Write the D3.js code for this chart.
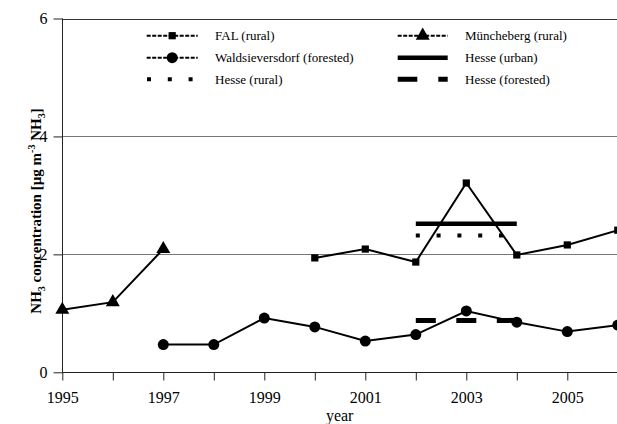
<!DOCTYPE html>
<html>
<head>
<meta charset="utf-8">
<script src="https://cdn.jsdelivr.net/npm/d3@7"></script>
<style>
  html, body { margin: 0; padding: 0; background: #fff; }
  svg { display: block; font-family: "Liberation Serif", "Times New Roman", serif; }
</style>
</head>
<body>
<svg id="chart" width="617" height="424"></svg>
<script>
// Annual mean NH3 concentrations per site
const falYears = [2000, 2001, 2002, 2003, 2004, 2005, 2006];
const falValues = [1.94, 2.09, 1.87, 3.21, 1.99, 2.16, 2.41];

const muenchebergYears = [1995, 1996, 1997];
const muenchebergValues = [1.06, 1.19, 2.09];

const waldYears = [1997, 1998, 1999, 2000, 2001, 2002, 2003, 2004, 2005, 2006];
const waldValues = [0.47, 0.47, 0.92, 0.77, 0.53, 0.64, 1.04, 0.85, 0.69, 0.80];

// Hesse network: mean over the 2002-2004 period
const hessePeriod = [2002, 2004];
const hesseUrban = 2.52;
const hesseRural = 2.32;
const hesseForested = 0.88;

const yTicks = [0, 2, 4, 6];
const xTicks = d3.range(1995, 2007);
const xLabelYears = [1995, 1997, 1999, 2001, 2003, 2005];

const legendLabels = [
  "FAL (rural)", "Müncheberg (rural)",
  "Waldsieversdorf (forested)", "Hesse (urban)",
  "Hesse (rural)", "Hesse (forested)"
];

const svg = d3.select("#chart");
const x = d3.scaleLinear().domain([1995, 2006]).range([62.3, 617.8]);
const y = d3.scaleLinear().domain([0, 6]).range([372.3, 18.5]);

// horizontal gridlines
svg.append("g").selectAll("line")
  .data(yTicks.filter(d => d > 0))
  .join("line")
  .attr("x1", x(1995)).attr("x2", 617)
  .attr("y1", d => Math.round(y(d)) + 0.5).attr("y2", d => Math.round(y(d)) + 0.5)
  .attr("stroke", d => d === 6 ? "#333" : "#777")
  .attr("stroke-width", 1);

// axes
const xAxis = d3.axisBottom(x)
  .tickValues(xTicks)
  .tickSize(8)
  .tickPadding(11)
  .tickFormat(d => xLabelYears.includes(d) ? String(d) : "");
const gx = svg.append("g").attr("transform", `translate(0,${Math.round(y(0)) + 0.5})`).call(xAxis);
gx.select(".domain").attr("d", `M${x(1995)},0H617`).attr("stroke", "#222");
gx.selectAll(".tick line").attr("stroke", "#222");
gx.selectAll("text").attr("font-size", 16).attr("font-family", "Liberation Serif").attr("fill", "#000");

const yAxis = d3.axisLeft(y).tickValues(yTicks).tickSize(9).tickPadding(6).tickFormat(d3.format("d"));
const gy = svg.append("g").attr("transform", `translate(${Math.round(x(1995)) + 0.5},0)`).call(yAxis);
gy.select(".domain").attr("d", `M0,${y(6)}V${y(0)}`).attr("stroke", "#222");
gy.selectAll(".tick line").attr("stroke", "#222");
gy.selectAll("text").attr("font-size", 16).attr("font-family", "Liberation Serif").attr("fill", "#000");

// axis titles
svg.append("text")
  .attr("x", (x(1995) + 617) / 2).attr("y", 421)
  .attr("text-anchor", "middle").attr("font-size", 16).attr("fill", "#000")
  .text("year");

const yTitle = svg.append("text")
  .attr("transform", `translate(41,211) rotate(-90)`)
  .attr("text-anchor", "middle").attr("font-size", 15).attr("font-weight", "bold").attr("fill", "#000");
yTitle.append("tspan").text("NH");
yTitle.append("tspan").attr("font-size", 10).attr("dy", 4).text("3");
yTitle.append("tspan").attr("dy", -4).text(" concentration [µg m");
yTitle.append("tspan").attr("font-size", 10).attr("dy", -6).text("-3");
yTitle.append("tspan").attr("dy", 6).text(" NH");
yTitle.append("tspan").attr("font-size", 10).attr("dy", 4).text("3");
yTitle.append("tspan").attr("dy", -4).text("]");

const line = d3.line().x(d => x(d[0])).y(d => y(d[1]));

// marker shapes
const sq = d3.symbol().type(d3.symbolSquare).size(52);
const tri = d3.symbol().type(d3.symbolTriangle).size(85);
const circ = d3.symbol().type(d3.symbolCircle).size(95);

function drawSeries(years, values, symbol) {
  const pts = years.map((yr, i) => [yr, values[i]]);
  svg.append("path").datum(pts)
    .attr("d", line).attr("fill", "none").attr("stroke", "#000")
    .attr("stroke-width", 2);
  svg.append("g").selectAll("path").data(pts).join("path")
    .attr("transform", d => `translate(${x(d[0])},${y(d[1])})`)
    .attr("d", symbol).attr("fill", "#000");
}

drawSeries(muenchebergYears, muenchebergValues, tri);
drawSeries(waldYears, waldValues, circ);
drawSeries(falYears, falValues, sq);

// Hesse period means
const hesseStyles = [
  { v: hesseUrban, w: 4.5, dash: null },
  { v: hesseRural, w: 4, dash: "4,16.8" },
  { v: hesseForested, w: 5, dash: "20,20.5" }
];
hesseStyles.forEach(s => {
  svg.append("path").datum(hessePeriod.map(yr => [yr, s.v]))
    .attr("d", line).attr("fill", "none").attr("stroke", "#000")
    .attr("stroke-width", s.w).attr("stroke-dasharray", s.dash);
});

// legend
const legendRows = [35.7, 57.7, 79.3];
const legendCols = [{ x0: 146.7, x1: 197.7, tx: 215 }, { x0: 397.7, x1: 447.7, tx: 465 }];
const legendKinds = ["fal", "mun", "wald", "urban", "rural", "forest"];
const lg = svg.append("g");
legendLabels.forEach((label, i) => {
  const col = legendCols[i % 2];
  const ly = legendRows[Math.floor(i / 2)];
  const kind = legendKinds[i];
  const mid = (col.x0 + col.x1) / 2;
  if (kind === "fal" || kind === "mun" || kind === "wald") {
    lg.append("line").attr("x1", col.x0).attr("x2", col.x1).attr("y1", ly).attr("y2", ly)
      .attr("stroke", "#000").attr("stroke-width", 2).attr("stroke-dasharray", "4,1.5");
    const sym = kind === "fal" ? sq : kind === "mun" ? tri : circ;
    lg.append("path").attr("transform", `translate(${mid},${ly})`).attr("d", sym).attr("fill", "#000");
  } else if (kind === "urban") {
    lg.append("line").attr("x1", col.x0).attr("x2", col.x1).attr("y1", ly).attr("y2", ly)
      .attr("stroke", "#000").attr("stroke-width", 4.5);
  } else if (kind === "rural") {
    lg.append("line").attr("x1", col.x0 + 0.3).attr("x2", col.x1).attr("y1", ly).attr("y2", ly)
      .attr("stroke", "#000").attr("stroke-width", 4).attr("stroke-dasharray", "4,16.8");
  } else {
    lg.append("line").attr("x1", col.x0).attr("x2", col.x1).attr("y1", ly).attr("y2", ly)
      .attr("stroke", "#000").attr("stroke-width", 5).attr("stroke-dasharray", "19.6,21");
  }
  lg.append("text").attr("x", col.tx).attr("y", ly + 4.5)
    .attr("font-size", 13).attr("fill", "#000").text(label);
});
</script>
</body>
</html>
